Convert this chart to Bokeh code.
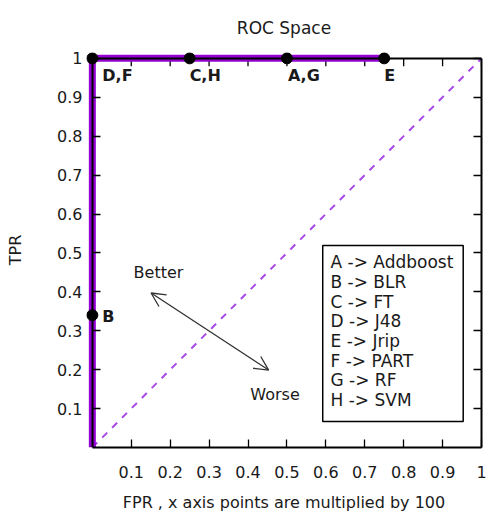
from bokeh.plotting import figure
from bokeh.models import (LinearAxis, FixedTicker, Arrow, OpenHead,
                          ColumnDataSource)
from bokeh.core.properties import value
from bokeh.embed import file_html
from bokeh.resources import INLINE

# ---------------- data ----------------
tick_values = [0.1, 0.2, 0.3, 0.4, 0.5, 0.6, 0.7, 0.8, 0.9, 1.0]
tick_labels = ["0.1", "0.2", "0.3", "0.4", "0.5", "0.6", "0.7", "0.8", "0.9", "1"]

point_labels = ["D,F", "C,H", "A,G", "E", "B"]
point_fpr = [0.0, 0.25, 0.5, 0.75, 0.0]
point_tpr = [1.0, 1.0, 1.0, 1.0, 0.34]

curve_fpr = [0.0, 0.0, 0.0, 0.25, 0.5, 0.75]
curve_tpr = [0.0, 0.34, 1.0, 1.0, 1.0, 1.0]

diag_fpr = [0.0, 1.0]
diag_tpr = [0.0, 1.0]

legend_letters = ["A", "B", "C", "D", "E", "F", "G", "H"]
legend_names = ["Addboost", "BLR", "FT", "J48", "Jrip", "PART", "RF", "SVM"]

# ---------------- layout ----------------
W, H = 488, 515
PAD = 0.015          # small room so the thick curve at x=0 / y=1 is not clipped
FW = 389.0
FH = 389.0
TICK = 8
FONT = "DejaVu Sans"
TXT = "#1a1a1a"
PURPLE = "#9400D3"

p = figure(width=W, height=H, x_range=(-PAD, 1), y_range=(0, 1 + PAD),
           output_backend="svg", toolbar_location=None,
           min_border_left=86, min_border_right=7,
           min_border_top=52, min_border_bottom=68)
p.grid.visible = False
p.outline_line_color = None
p.background_fill_color = "white"
p.border_fill_color = "white"

p.title.text = "ROC Space"
p.title.align = "center"
p.title.text_font = FONT
p.title.text_font_size = "17px"
p.title.text_font_style = "normal"
p.title.text_color = TXT
p.title.standoff = 30

overrides = {v: t for v, t in zip(tick_values, tick_labels)}

def style_axis(ax, show_labels, standoff, tick_in=TICK, tick_out=0,
               line=True, ticks=True):
    ax.ticker = FixedTicker(ticks=tick_values)
    ax.major_label_overrides = overrides
    ax.bounds = (0, 1)
    ax.major_tick_in = tick_in
    ax.major_tick_out = tick_out
    ax.minor_tick_line_color = None
    ax.axis_line_width = 2
    ax.axis_line_color = "black" if line else None
    ax.major_tick_line_width = 1.3
    ax.major_tick_line_color = "black" if ticks else None
    ax.major_label_text_font = FONT
    ax.major_label_standoff = standoff
    if show_labels:
        ax.major_label_text_font_size = "16px"
        ax.major_label_text_color = TXT
    else:
        ax.major_label_text_font_size = "0px"
        ax.major_label_text_color = None

# bottom axis (line, ticks, labels)
xa = p.xaxis[0]
style_axis(xa, True, 18)
xa.axis_label = "FPR , x axis points are multiplied by 100"
xa.axis_label_standoff = 12

# left axis: labels only (frame edge), line + ticks drawn at x = 0
ya = p.yaxis[0]
style_axis(ya, True, 4, tick_in=0, line=False, ticks=False)
ya.axis_label = "TPR"
ya.axis_label_standoff = 29

for ax in (xa, ya):
    ax.axis_label_text_font = FONT
    ax.axis_label_text_font_size = "16px"
    ax.axis_label_text_font_style = "normal"
    ax.axis_label_text_color = TXT

left_line = LinearAxis(fixed_location=0)
style_axis(left_line, False, 0)
p.add_layout(left_line, "left")

# top edge line at y = 1 (its ticks are drawn as segments below)
top_line = LinearAxis(fixed_location=1)
style_axis(top_line, False, 0, tick_in=0, ticks=False)
p.add_layout(top_line, "above")

right_ax = LinearAxis()
style_axis(right_ax, False, 0)
p.add_layout(right_ax, "right")

# top mirror ticks
nt = len(tick_values)
p.segment(x0=tick_values, y0=[1.0] * nt, x1=tick_values,
          y1=[1.0 - TICK / FH] * nt, line_color="black", line_width=1.3)

# diagonal
p.line(diag_fpr, diag_tpr, line_color="#a64ae8", line_width=2,
       line_dash="7 7")

# ROC curve
p.line(curve_fpr, curve_tpr, line_color=PURPLE, line_width=7)

# points
p.scatter(point_fpr, point_tpr, size=11, color="black")

# point labels
dx_px = [10, 0, 1, 0, 10]
dy_px = [-17, -17, -17, -17, -1.5]
lab_src = ColumnDataSource(dict(
    x=[f + d / FW for f, d in zip(point_fpr, dx_px)],
    y=[t + d / FH for t, d in zip(point_tpr, dy_px)],
    text=point_labels))
p.text(x="x", y="y", text="text", source=lab_src,
       text_font=value(FONT), text_font_size="16px",
       text_font_style="bold", text_color=TXT,
       text_align="left", text_baseline="middle")

# arrow
p.add_layout(Arrow(x_start=0.151, y_start=0.397, x_end=0.453, y_end=0.199,
                   start=OpenHead(size=14, line_width=1.3, line_color="#333333"),
                   end=OpenHead(size=14, line_width=1.3, line_color="#333333"),
                   line_width=1.3, line_color="#333333"))
p.text(x=[0.106, 0.406], y=[0.4496, 0.1356], text=["Better", "Worse"],
       text_font=value(FONT), text_font_size="16px", text_color=TXT,
       text_align="left", text_baseline="middle")

# legend box
p.quad(left=[0.592], right=[0.953], top=[0.519], bottom=[0.067],
       fill_color="white", line_color="black", line_width=1.5)
n = len(legend_letters)
leg_y = [0.476 - i * 19.66 / FH for i in range(n)]
p.text(x=[0.612] * n, y=leg_y,
       text=[f"{a} -> {b}" for a, b in zip(legend_letters, legend_names)],
       text_font=value(FONT), text_font_size="17px", text_color=TXT,
       text_align="left", text_baseline="middle")

open("out.html", "w").write(file_html(p, INLINE))
